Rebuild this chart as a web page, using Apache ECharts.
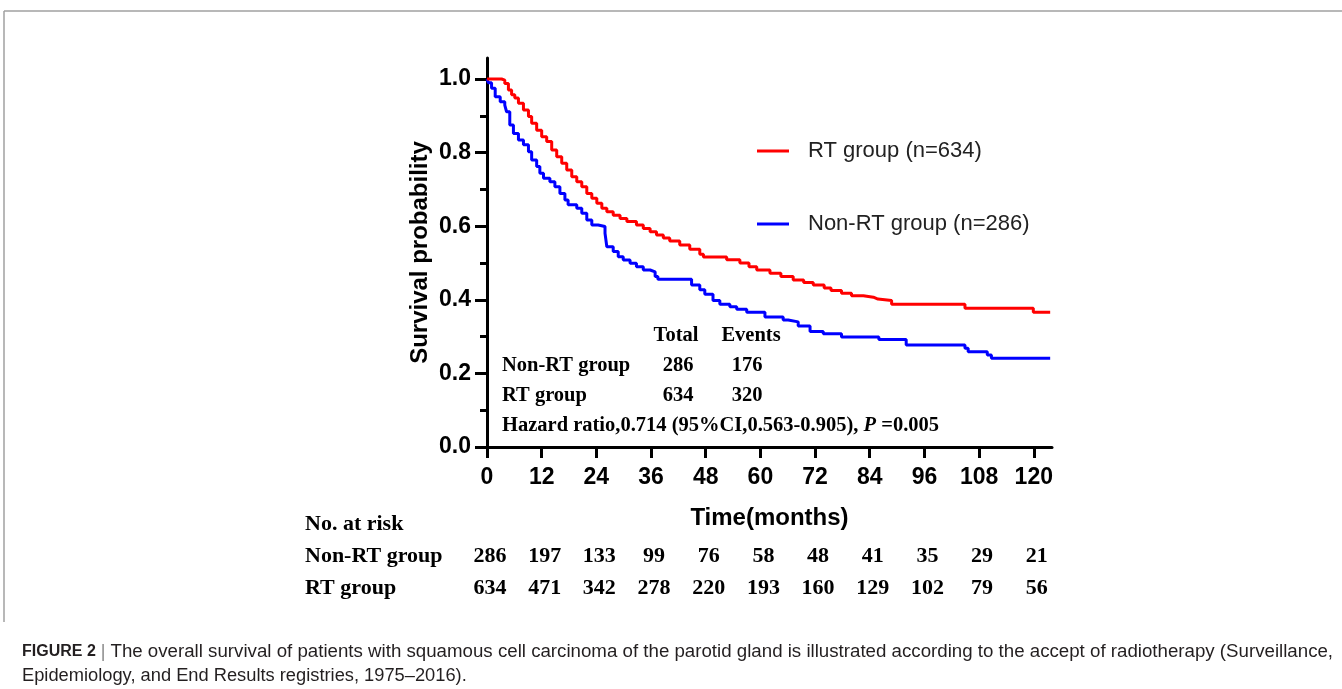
<!DOCTYPE html>
<html><head><meta charset="utf-8">
<script src="https://cdn.jsdelivr.net/npm/echarts@6/dist/echarts.min.js"></script>
<style>html,body{margin:0;padding:0;background:#fff}#c{width:1342px;height:689px}</style>
</head><body><div id="c"></div>
<script>
// ---- data ----
const rtCurve = [[0,1.0],[3.2,0.997],[3.9,0.988],[4.7,0.97],[5.4,0.957],[6.1,0.948],[6.9,0.934],[8.0,0.916],[9.1,0.898],[9.8,0.88],[10.9,0.861],[12.0,0.843],[13.1,0.83],[14.2,0.807],[15.3,0.789],[16.4,0.771],[17.5,0.753],[18.6,0.734],[19.7,0.721],[20.8,0.707],[21.9,0.689],[23.0,0.676],[24.1,0.662],[25.2,0.649],[26.3,0.639],[27.7,0.63],[29.2,0.621],[30.7,0.613],[32.8,0.603],[34.3,0.594],[35.8,0.585],[37.2,0.576],[38.7,0.568],[40.1,0.56],[42.3,0.549],[44.5,0.537],[46.7,0.524],[47.5,0.516],[52.6,0.509],[55.5,0.5],[57.5,0.49],[59.2,0.481],[62.1,0.472],[64.5,0.463],[67.2,0.454],[69.5,0.447],[71.6,0.44],[74.0,0.432],[75.5,0.425],[77.8,0.418],[80.0,0.411],[82.6,0.407],[84.8,0.402],[85.8,0.398],[88.8,0.388],[104.9,0.377],[119.9,0.366],[123.6,0.366]];
const nonRtCurve = [[0,1.0],[0.3,0.99],[1.0,0.975],[1.8,0.952],[2.9,0.938],[3.9,0.929],[4.3,0.911],[5.0,0.875],[5.8,0.852],[6.9,0.834],[8.0,0.821],[9.1,0.802],[9.8,0.78],[10.9,0.762],[11.6,0.744],[12.4,0.73],[13.8,0.721],[14.9,0.707],[16.0,0.689],[17.1,0.671],[17.8,0.658],[19.7,0.649],[20.8,0.635],[21.9,0.617],[23.0,0.603],[24.4,0.599],[25.9,0.581],[26.3,0.544],[27.7,0.531],[28.8,0.517],[29.9,0.508],[31.4,0.499],[32.8,0.49],[34.3,0.481],[35.8,0.476],[36.9,0.463],[37.5,0.456],[44.9,0.44],[46.7,0.427],[47.8,0.415],[49.6,0.398],[51.1,0.388],[53.3,0.381],[54.8,0.374],[57.0,0.366],[61.0,0.353],[65.0,0.345],[66.1,0.34],[68.3,0.329],[70.9,0.314],[73.8,0.308],[77.8,0.299],[86.0,0.292],[92.0,0.277],[104.9,0.268],[105.6,0.259],[109.8,0.25],[110.7,0.241],[123.6,0.241]];
const seriesNames = ['RT group (n=634)','Non-RT group (n=286)'];
const xTicks = [0,12,24,36,48,60,72,84,96,108,120];
const yMajorTicks = [0,0.2,0.4,0.6,0.8,1.0];
const yMinorTicks = [0.1,0.3,0.5,0.7,0.9];
const riskNonRT = [286,197,133,99,76,58,48,41,35,29,21];
const riskRT = [634,471,342,278,220,193,160,129,102,79,56];
const riskLabels = ['No. at risk','Non-RT group','RT group'];
const summaryHeader = ['Total','Events'];
const summaryRows = [['Non-RT group','286','176'],['RT group','634','320']];
const hazardParts = ['Hazard ratio,0.714 (95%CI,0.563-0.905), ','P',' =0.005'];
const xTitle = 'Time(months)';
const yTitle = 'Survival probability';
const captionHead = 'FIGURE 2';
const captionLine1 = 'The overall survival of patients with squamous cell carcinoma of the parotid gland is illustrated according to the accept of radiotherapy (Surveillance,';
const captionLine2 = 'Epidemiology, and End Results registries, 1975\u20132016).';

// ---- chart ----
const chart = echarts.init(document.getElementById('c'), null, {renderer:'canvas'});
const serif = '"Liberation Serif","Times New Roman",serif';
const sans = 'Arial,"Liberation Sans",Helvetica,sans-serif';
const tf = (size) => ({fontFamily: serif, fontSize: size, fontWeight: 'bold', fill: '#000'});
const inFont = 20.5, riskFont = 22;

const graphics = [
  {type:'line', shape:{x1:4,y1:11,x2:1342,y2:11}, style:{stroke:'#a0a0a0', lineWidth:1.5}},
  {type:'line', shape:{x1:4,y1:11,x2:4,y2:622}, style:{stroke:'#a0a0a0', lineWidth:1.5}},
  {type:'text', x:676, y:336, style:Object.assign(tf(inFont),{text:summaryHeader[0], align:'center', verticalAlign:'middle'})},
  {type:'text', x:751, y:336, style:Object.assign(tf(inFont),{text:summaryHeader[1], align:'center', verticalAlign:'middle'})},
];
summaryRows.forEach((r,i)=>{
  const y = 366 + i*30;
  graphics.push({type:'text', x:502, y:y, style:Object.assign(tf(inFont),{text:r[0], align:'left', verticalAlign:'middle'})});
  graphics.push({type:'text', x:678, y:y, style:Object.assign(tf(inFont),{text:r[1], align:'center', verticalAlign:'middle'})});
  graphics.push({type:'text', x:747, y:y, style:Object.assign(tf(inFont),{text:r[2], align:'center', verticalAlign:'middle'})});
});
graphics.push({type:'text', x:502, y:426, style:{
  text:'{n|'+hazardParts[0]+'}{i|'+hazardParts[1]+'}{n|'+hazardParts[2]+'}',
  align:'left', verticalAlign:'middle',
  rich:{n:{fontFamily:serif,fontSize:inFont,fontWeight:'bold',fill:'#000'}, i:{fontFamily:serif,fontSize:inFont,fontWeight:'bold',fontStyle:'italic',fill:'#000'}}
}});
riskLabels.forEach((t,i)=>{
  graphics.push({type:'text', x:305, y:524+i*32, style:Object.assign(tf(riskFont),{text:t, align:'left', verticalAlign:'middle'})});
});
graphics.push({type:'text', x:22, y:652, style:{
  text:'{b|'+captionHead+'}{s| | }{n|'+captionLine1+'}',
  align:'left', verticalAlign:'middle',
  rich:{b:{fontFamily:sans,fontSize:16,fontWeight:'bold',fill:'#231f20'}, s:{fontFamily:sans,fontSize:18,fill:'#888'}, n:{fontFamily:sans,fontSize:18.7,fill:'#231f20'}}
}});
graphics.push({type:'text', x:22, y:676, style:{text:captionLine2, fontFamily:sans, fontSize:18.3, fill:'#231f20', align:'left', verticalAlign:'middle'}});

const riskAxis = (arr, offset) => ({
  type:'value', min:0, max:124, position:'bottom', offset:offset, gridIndex:0,
  axisLine:{show:false}, axisTick:{show:false}, splitLine:{show:false},
  axisLabel:{customValues:xTicks, margin:8, padding:[0,0,0,6],
    formatter:(v)=>String(arr[xTicks.indexOf(v)]),
    fontFamily:serif, fontSize:riskFont, fontWeight:'bold', color:'#000'}
});

const option = {
  animation:false,
  backgroundColor:'#fff',
  grid:{left:487, right:290, top:58, bottom:242, containLabel:false},
  legend:{
    orient:'vertical', left:757, top:138, itemGap:47, padding:0,
    itemWidth:32, itemHeight:3, icon:'rect',
    data:seriesNames,
    textStyle:{fontFamily:sans, fontSize:22, color:'#222', lineHeight:26, padding:[0,0,0,14]}
  },
  xAxis:[
    {type:'value', min:0, max:124, position:'bottom',
     name:xTitle, nameLocation:'middle', nameGap:59,
     nameTextStyle:{fontFamily:sans, fontSize:24, fontWeight:'bold', color:'#000'},
     axisLine:{lineStyle:{color:'#000', width:3}},
     axisTick:{customValues:xTicks, length:11, lineStyle:{color:'#000', width:3}},
     axisLabel:{customValues:xTicks, margin:19, fontFamily:sans, fontSize:23, fontWeight:'bold', color:'#000'},
     splitLine:{show:false}},
    riskAxis(riskNonRT, 90),
    riskAxis(riskRT, 122)
  ],
  yAxis:[
    {type:'value', min:0, max:1.057, position:'left',
     name:yTitle, nameLocation:'middle', nameGap:55,
     nameTextStyle:{fontFamily:sans, fontSize:24, fontWeight:'bold', color:'#000'},
     axisLine:{show:true, lineStyle:{color:'#000', width:3}},
     axisTick:{show:true, customValues:yMajorTicks, length:12, lineStyle:{color:'#000', width:3}},
     axisLabel:{customValues:yMajorTicks, margin:16, formatter:(v)=>v.toFixed(1), fontFamily:sans, fontSize:23, fontWeight:'bold', color:'#000'},
     splitLine:{show:false}},
    {type:'value', min:0, max:1.057, position:'left', offset:0,
     axisLine:{show:false},
     axisTick:{show:true, customValues:yMinorTicks, length:7, lineStyle:{color:'#000', width:3}},
     axisLabel:{show:false}, splitLine:{show:false}}
  ],
  series:[
    {name:seriesNames[0], type:'line', step:'end', data:rtCurve, xAxisIndex:0, yAxisIndex:0,
     showSymbol:false, symbol:'none', lineStyle:{color:'#ff0000', width:3}, itemStyle:{color:'#ff0000'}, z:3},
    {name:seriesNames[1], type:'line', step:'end', data:nonRtCurve, xAxisIndex:0, yAxisIndex:0,
     showSymbol:false, symbol:'none', lineStyle:{color:'#0000ff', width:3}, itemStyle:{color:'#0000ff'}, z:2}
  ],
  graphic:graphics
};
chart.setOption(option);
</script></body></html>
